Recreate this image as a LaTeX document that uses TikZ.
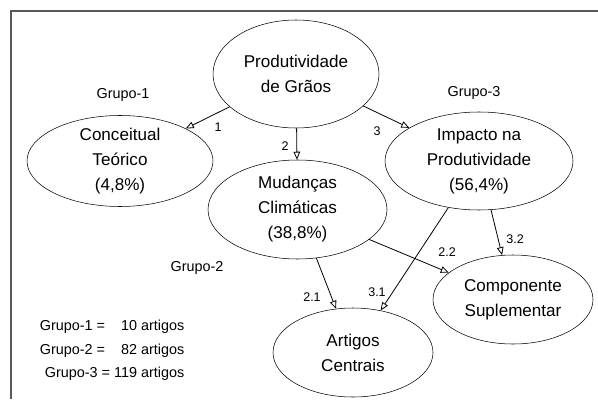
\documentclass[tikz,border=0pt]{standalone}
\usepackage{fontspec}
\setmainfont{Liberation Sans}
\usetikzlibrary{shapes.geometric,arrows.meta}

\begin{document}
\begin{tikzpicture}[x=0.75pt,y=-0.75pt,
  tema/.style={draw, ellipse, inner sep=-12pt, align=center,
    font=\fontsize{12.8}{18.75}\selectfont},
  grupo/.style={font=\fontsize{10.8}{13}\selectfont},
  rotulo/.style={font=\fontsize{9.4}{11}\selectfont, inner sep=0pt},
  seta/.style={-{Triangle[open,length=6pt,width=5pt]}, line width=0.6pt}]

\useasboundingbox (0,0) rectangle (598,399);

\draw [black!65, line width=1.3pt] (598,11) -- (11,11) -- (11,399);

\node [tema, minimum width=124.5pt, minimum height=81pt] (P) at (296,74) {Produtividade\\de Grãos};
\node [tema, minimum width=139.5pt, minimum height=68.25pt] (C) at (120,161) {Conceitual\\Teórico\\(4,8\%)};
\node [tema, minimum width=141pt, minimum height=73.5pt] (I) at (479,161) {Impacto na\\Produtividade\\(56,4\%)};
\node [tema, minimum width=134.25pt, minimum height=74.25pt] (M) at (297.5,209.5) {Mudanças\\Climáticas\\(38,8\%)};
\node [tema, minimum width=120pt, minimum height=66.75pt] (S) at (513,299.5) {Componente\\Suplementar};
\node [tema, minimum width=120pt, minimum height=66.75pt] (A) at (353,352.5) {Artigos\\Centrais};

\draw [seta] (P) -- (C);
\draw [seta] (P) -- (M);
\draw [seta] (P) -- (I);
\draw [seta] (M) -- (A);
\draw [seta] (M) -- (S);
\draw [seta] (I) -- (A);
\draw [seta] (I) -- (S);

\node [rotulo] (r1) at (218,127) {1};
\node [rotulo] (r2) at (285,146) {2};
\node [rotulo] (r3) at (377,131) {3};
\node [rotulo] (r21) at (312,297) {2.1};
\node [rotulo] (r22) at (447,252) {2.2};
\node [rotulo] (r31) at (377,292) {3.1};
\node [rotulo] (r32) at (515,239) {3.2};

\node [grupo] (G1) at (123,95) {Grupo-1};
\node [grupo] (G2) at (197,268) {Grupo-2};
\node [grupo] (G3) at (474,93) {Grupo-3};

\node [grupo, anchor=east, align=right, font=\fontsize{10.8}{17.6}\selectfont] (L) at (189,350.5)
  {Grupo-1 = \ \ \ 10 artigos\\Grupo-2 = \ \ \ 82 artigos\\Grupo-3 = 119 artigos};

\end{tikzpicture}
\end{document}
